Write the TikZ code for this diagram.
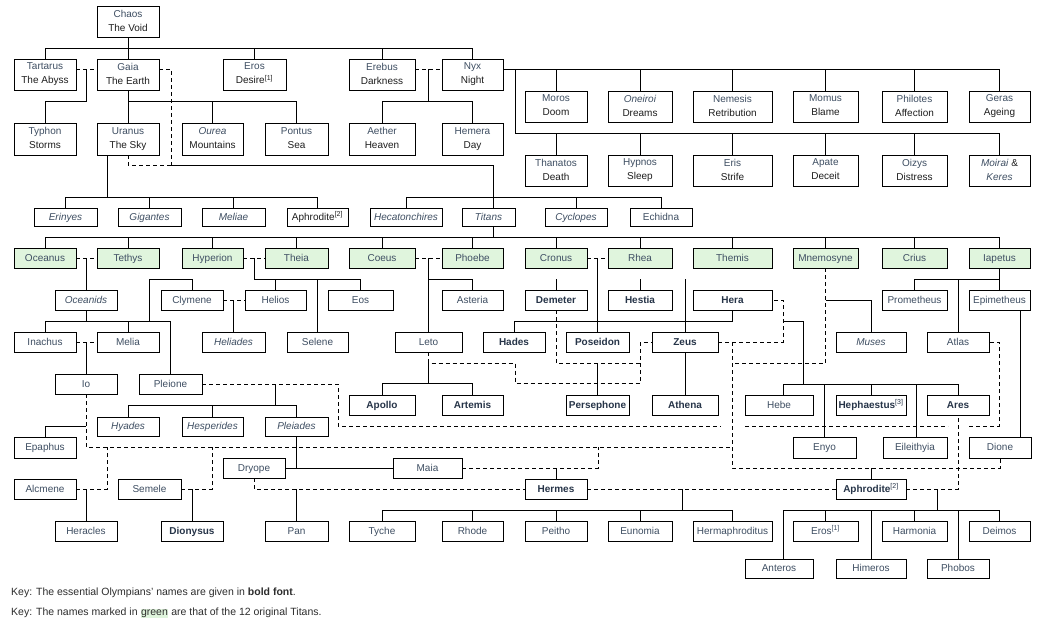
\documentclass[tikz,border=0pt]{standalone}
\usepackage{fontspec}
\setmainfont{Liberation Sans}
\definecolor{namec}{RGB}{62,78,98}
\definecolor{subc}{RGB}{30,30,30}
\definecolor{boldc}{RGB}{38,52,72}
\definecolor{titang}{RGB}{224,245,221}
\definecolor{keyc}{RGB}{45,45,45}
\pgfdeclarelayer{bg}
\pgfsetlayers{bg,main}
\newcommand\subl[1]{\textcolor{subc}{#1}}
\newcommand\mystrut{\vrule height 8.1pt depth 1.9pt width 0pt}
\newcommand\NB[7][]{\node[bx,minimum width={(#5-#3)*1pt},minimum height={(#6-#4)*1pt},#1] (#2) at ({(#3+#5)/2},{(#4+#6)/2}) {#7};}
\tikzset{
 bx/.style={draw=black,line width=0.9pt,fill=white,inner sep=0pt,outer sep=0pt,align=center,font=\fontsize{10}{14}\selectfont,text=namec,execute at begin node=\mystrut,execute at end node=\mystrut},
 tg/.style={fill=titang},
 ob/.style={font=\fontsize{10}{14}\selectfont\bfseries,text=boldc},
 ln/.style={draw=black,line width=0.95pt},
 mar/.style={draw=black,line width=0.95pt,dash pattern=on 4pt off 3pt},
}
\begin{document}
\begin{tikzpicture}[x=1pt,y=-1pt]
\useasboundingbox (0,0) rectangle (1059,629);
% row A-B-C
\NB{chaos}{97}{6}{159}{37}{Chaos\\\subl{The Void}}
\NB{tartarus}{14}{59}{76}{90}{Tartarus\\\subl{The Abyss}}
\NB{gaia}{97}{59}{159}{90}{Gaia\\\subl{The Earth}}
\NB{eros1}{223}{59}{286}{90}{Eros\\\subl{Desire\textsuperscript{[1]}}}
\NB{erebus}{349}{59}{415}{90}{Erebus\\\subl{Darkness}}
\NB{nyx}{442}{59}{503}{90}{Nyx\\\subl{Night}}
\NB{typhon}{14}{123}{76}{155}{Typhon\\\subl{Storms}}
\NB{uranus}{97}{123}{159}{155}{Uranus\\\subl{The Sky}}
\NB{ourea}{182}{123}{243}{155}{\textit{Ourea}\\\subl{Mountains}}
\NB{pontus}{265}{123}{328}{155}{Pontus\\\subl{Sea}}
\NB{aether}{349}{123}{415}{155}{Aether\\\subl{Heaven}}
\NB{hemera}{442}{123}{503}{155}{Hemera\\\subl{Day}}
% Nyx children
\NB{moros}{525}{91}{587}{122}{Moros\\\subl{Doom}}
\NB{oneiroi}{608}{91}{672}{122}{\textit{Oneiroi}\\\subl{Dreams}}
\NB{nemesis}{693}{91}{772}{122}{Nemesis\\\subl{Retribution}}
\NB{momus}{793}{91}{858}{122}{Momus\\\subl{Blame}}
\NB{philotes}{882}{91}{947}{122}{Philotes\\\subl{Affection}}
\NB{geras}{969}{91}{1030}{122}{Geras\\\subl{Ageing}}
\NB{thanatos}{525}{155}{587}{186}{Thanatos\\\subl{Death}}
\NB{hypnos}{608}{155}{672}{186}{Hypnos\\\subl{Sleep}}
\NB{eris}{693}{155}{772}{186}{Eris\\\subl{Strife}}
\NB{apate}{793}{155}{858}{186}{Apate\\\subl{Deceit}}
\NB{oizys}{882}{155}{947}{186}{Oizys\\\subl{Distress}}
\NB{moirai}{969}{155}{1030}{186}{\textit{Moirai} \subl{\&}\\\textit{Keres}}
% row D
\NB{erinyes}{34}{208}{97}{226}{\textit{Erinyes}}
\NB{gigantes}{118}{208}{181}{226}{\textit{Gigantes}}
\NB{meliae}{202}{208}{265}{226}{\textit{Meliae}}
\NB{aphrodite1}{287}{208}{348}{226}{\subl{Aphrodite\textsuperscript{[2]}}}
\NB{hecaton}{370}{208}{442}{226}{\textit{Hecatonchires}}
\NB{titans}{462}{208}{515}{226}{\textit{Titans}}
\NB{cyclopes}{545}{208}{607}{226}{\textit{Cyclopes}}
\NB{echidna}{630}{208}{692}{226}{Echidna}
% Titans
\NB[tg]{oceanus}{14}{248}{76}{268}{Oceanus}
\NB[tg]{tethys}{97}{248}{159}{268}{Tethys}
\NB[tg]{hyperion}{182}{248}{243}{268}{Hyperion}
\NB[tg]{theia}{265}{248}{328}{268}{Theia}
\NB[tg]{coeus}{349}{248}{415}{268}{Coeus}
\NB[tg]{phoebe}{442}{248}{503}{268}{Phoebe}
\NB[tg]{cronus}{525}{248}{587}{268}{Cronus}
\NB[tg]{rhea}{608}{248}{672}{268}{Rhea}
\NB[tg]{themis}{693}{248}{772}{268}{Themis}
\NB[tg]{mnemosyne}{793}{248}{858}{268}{Mnemosyne}
\NB[tg]{crius}{882}{248}{947}{268}{Crius}
\NB[tg]{iapetus}{969}{248}{1030}{268}{Iapetus}
% row F
\NB{oceanids}{55}{290}{117}{310}{\textit{Oceanids}}
\NB{clymene}{161}{290}{223}{310}{Clymene}
\NB{helios}{245}{290}{306}{310}{Helios}
\NB{eos}{328}{290}{393}{310}{Eos}
\NB{asteria}{442}{290}{503}{310}{Asteria}
\NB[ob]{demeter}{525}{290}{587}{310}{Demeter}
\NB[ob]{hestia}{608}{290}{672}{310}{Hestia}
\NB[ob]{hera}{693}{290}{772}{310}{Hera}
\NB{prometheus}{882}{290}{947}{310}{Prometheus}
\NB{epimetheus}{969}{290}{1030}{310}{Epimetheus}
% row G
\NB{inachus}{14}{332}{76}{352}{Inachus}
\NB{melia}{97}{332}{159}{352}{Melia}
\NB{heliades}{202}{332}{265}{352}{\textit{Heliades}}
\NB{selene}{287}{332}{348}{352}{Selene}
\NB{leto}{395}{332}{462}{352}{Leto}
\NB[ob]{hades}{483}{332}{545}{352}{Hades}
\NB[ob]{poseidon}{566}{332}{629}{352}{Poseidon}
\NB[ob]{zeus}{652}{332}{718}{352}{Zeus}
\NB{muses}{836}{332}{906}{352}{\textit{Muses}}
\NB{atlas}{927}{332}{989}{352}{Atlas}
% row H
\NB{io}{55}{374}{117}{394}{Io}
\NB{pleione}{139}{374}{202}{394}{Pleione}
% row I
\NB[ob]{apollo}{349}{395}{415}{415}{Apollo}
\NB[ob]{artemis}{442}{395}{503}{415}{Artemis}
\NB[ob]{persephone}{566}{395}{629}{415}{Persephone}
\NB[ob]{athena}{652}{395}{718}{415}{Athena}
\NB{hebe}{745}{395}{813}{415}{Hebe}
\NB[ob]{hephaestus}{836}{395}{906}{415}{Hephaestus\textsuperscript{\mdseries[3]}}
\NB[ob]{ares}{927}{395}{989}{415}{Ares}
% row J
\NB{hyades}{97}{417}{159}{436}{\textit{Hyades}}
\NB{hesperides}{182}{417}{243}{436}{\textit{Hesperides}}
\NB{pleiades}{265}{417}{328}{436}{\textit{Pleiades}}
% row K
\NB{epaphus}{14}{437}{76}{458}{Epaphus}
\NB{enyo}{793}{437}{856}{458}{Enyo}
\NB{eileithyia}{883}{437}{947}{458}{Eileithyia}
\NB{dione}{969}{437}{1031}{458}{Dione}
% row L
\NB{dryope}{223}{458}{285}{478}{Dryope}
\NB{maia}{393}{458}{462}{478}{Maia}
% row M
\NB{alcmene}{14}{479}{76}{499}{Alcmene}
\NB{semele}{118}{479}{181}{499}{Semele}
\NB[ob]{hermes}{525}{479}{587}{499}{Hermes}
\NB[ob]{aphrodite2}{836}{479}{906}{499}{Aphrodite\textsuperscript{\mdseries[2]}}
% row N
\NB{heracles}{55}{521}{117}{541}{Heracles}
\NB[ob]{dionysus}{161}{521}{223}{541}{Dionysus}
\NB{pan}{265}{521}{328}{541}{Pan}
\NB{tyche}{349}{521}{415}{541}{Tyche}
\NB{rhode}{442}{521}{503}{541}{Rhode}
\NB{peitho}{525}{521}{587}{541}{Peitho}
\NB{eunomia}{608}{521}{672}{541}{Eunomia}
\NB{hermaphroditus}{693}{521}{772}{541}{Hermaphroditus}
\NB{eros2}{793}{521}{858}{541}{Eros\textsuperscript{[1]}}
\NB{harmonia}{882}{521}{947}{541}{Harmonia}
\NB{deimos}{969}{521}{1030}{541}{Deimos}
% row O
\NB{anteros}{745}{559}{813}{578}{Anteros}
\NB{himeros}{836}{559}{906}{578}{Himeros}
\NB{phobos}{927}{559}{989}{578}{Phobos}
% key
\node[anchor=west,inner sep=0pt,text=keyc,font=\fontsize{10.5}{12}\selectfont] (key1) at (11,593) {Key: The essential Olympians' names are given in \textbf{bold font}.};
\node[anchor=west,inner sep=0pt,text=keyc,font=\fontsize{10.5}{12}\selectfont] (key2) at (11,613) {Key: The names marked in {\fboxsep=0.5pt\colorbox{titang}{green}} are that of the 12 original Titans.};

\begin{pgfonlayer}{bg}
\fill[white] (0,0) rectangle (1059,629);
% Chaos
\draw[ln] (chaos.south) -- (gaia.north);
\draw[ln] (tartarus.north) -- ++(0,-11) -| (nyx.north);
\draw[ln] (eros1.north) -- ++(0,-11);
\draw[ln] (erebus.north) -- ++(0,-11);
% Tartarus + Gaia
\draw[mar] ([yshift=5.5pt]tartarus.east) -- ([yshift=5.5pt]gaia.west);
\draw[ln] (86.5,69) -- (86.5,101) -| (typhon.north);
% Gaia
\draw[ln] (gaia.south) -- (uranus.north);
\draw[ln] (128,101) -| (pontus.north);
\draw[ln] (ourea.north) -- ++(0,-22);
% Gaia + Uranus
\draw[mar] ([yshift=5.5pt]gaia.east) -| (171,165);
\draw[mar] (uranus.south) |- (171,165);
\draw[ln] (171,165) -| (493,237);
\draw[ln] (hecaton.north) -- ++(0,-11) -| (echidna.north);
\draw[ln] (cyclopes.north) -- ++(0,-11);
% Uranus
\draw[ln] (107,155) -- (107,197);
\draw[ln] (erinyes.north) -- ++(0,-11) -| (aphrodite1.north);
\draw[ln] (gigantes.north) -- ++(0,-11);
\draw[ln] (meliae.north) -- ++(0,-11);
% Titans bus
\draw[ln] (oceanus.north) -- ++(0,-11) -| (iapetus.north);
\foreach \n in {tethys,hyperion,theia,coeus,phoebe,cronus,rhea,themis,mnemosyne,crius}
  \draw[ln] (\n.north) -- ++(0,-11);
% Oceanus + Tethys
\draw[mar] (oceanus.east) -- (tethys.west);
\draw[ln] (oceanids.north) -- ++(0,-32);
\draw[ln] (oceanids.south) -- ++(0,11);
\draw[ln] (inachus.north) -- ++(0,-11) -| (pleione.north);
\draw[ln] (melia.north) -- ++(0,-11);
\draw[ln] (149,321) -- (149,279) -- (192,279) -- (clymene.north);
% Inachus + Melia
\draw[mar] (inachus.east) -- (melia.west);
\draw[ln] (io.north) -- ++(0,-32);
% Hyperion + Theia
\draw[mar] (hyperion.east) -- (theia.west);
\draw[ln] (254,258) -- (254,279) -| (eos.north);
\draw[ln] (helios.north) -- ++(0,-11);
\draw[ln] (selene.north) -- ++(0,-53);
% Clymene + Helios
\draw[mar] (clymene.east) -- (helios.west);
\draw[ln] (heliades.north) -- ++(0,-32);
% Coeus + Phoebe
\draw[mar] (coeus.east) -- (phoebe.west);
\draw[ln] (leto.north) -- ++(0,-74);
\draw[ln] (428.5,279) -| (asteria.north);
% Cronus + Rhea
\draw[mar] (cronus.east) -- (rhea.west);
\draw[ln] (poseidon.north) -- ++(0,-74);
\draw[ln] (hades.north) -- ++(0,-11) -| (hera.north);
\draw[ln] (demeter.north) -- ++(0,-11);
\draw[ln] (hestia.north) -- ++(0,-11);
\draw[ln] (zeus.north) -- ++(0,-53);
% Leto + Zeus
\draw[mar] (leto.south) -- (428.5,363) -- (515,363) -- (515,383) -- (640,383) -- (640,342) -- (zeus.west);
\draw[ln] (428.5,363) -- (428.5,383);
\draw[ln] (apollo.north) -- ++(0,-12) -| (artemis.north);
% Demeter + Zeus
\draw[mar] (demeter.south) -- ++(0,53) -- (640,363);
\draw[ln] (persephone.north) -- ++(0,-32);
\draw[ln] (zeus.south) -- (athena.north);
% Zeus + Hera
\draw[mar] (zeus.east) -- (783,342) -- (783,300) -- (hera.east);
\draw[ln] (783,321) -- (803,321) -- (803,384);
\draw[ln] (783,395) -- (783,384) -| (ares.north);
\draw[ln] (enyo.north) -- ++(0,-53);
\draw[ln] (hephaestus.north) -- ++(0,-11);
\draw[ln] (916,437) -- (916,384);
% Mnemosyne + Zeus
\draw[mar] (mnemosyne.south) -- ++(0,95) -- (732,363);
\draw[ln] (825.5,300) -| (muses.north);
% Zeus + Dione
\draw[mar] (732,342) -- (732,468) -| (dione.south);
\draw[ln] (aphrodite2.north) -- ++(0,-11);
% Io, Alcmene, Semele + Zeus
\draw[mar] (io.south) -- ++(0,53) -- (732,447);
\draw[ln] (86,426) -| (epaphus.north);
\draw[mar] (alcmene.east) -| (107,447);
\draw[ln] (heracles.north) -- ++(0,-32);
\draw[mar] (semele.east) -| (212,447);
\draw[ln] (dionysus.north) -- ++(0,-32);
% Maia + Zeus
\draw[mar] (maia.east) -| (598,447);
\draw[ln] (hermes.north) -- ++(0,-11);
% Pleione + Atlas
\draw[mar] (pleione.east) -| (338,426) -- (721,426);
\draw[mar] (745,426) -- (948,426);
\draw[mar] (969,426) -- (999,426) -- (999,342) -- (atlas.east);
\draw[ln] (275,384) -- (275,405);
\draw[ln] (hyades.north) -- ++(0,-12) -| (pleiades.north);
\draw[ln] (hesperides.north) -- ++(0,-12);
\draw[ln] (pleiades.south) -- ++(0,32);
\draw[ln] (dryope.east) -- (maia.west);
% Dryope + Hermes
\draw[mar] (dryope.south) |- (hermes.west);
\draw[ln] (pan.north) -- ++(0,-32);
% Hermes + Aphrodite
\draw[mar] (hermes.east) -- (aphrodite2.west);
\draw[ln] (682,489) -- (682,510);
\draw[ln] (tyche.north) -- ++(0,-11) -| (hermaphroditus.north);
\draw[ln] (rhode.north) -- ++(0,-11);
\draw[ln] (peitho.north) -- ++(0,-11);
\draw[ln] (eunomia.north) -- ++(0,-11);
% Ares + Aphrodite
\draw[mar] (aphrodite2.east) -| (ares.south);
\draw[ln] (937,489) -- (937,510);
\draw[ln] (783,559) -- (783,510) -| (deimos.north);
\draw[ln] (eros2.north) -- ++(0,-11);
\draw[ln] (harmonia.north) -- ++(0,-11);
\draw[ln] (himeros.north) -- ++(0,-49);
\draw[ln] (phobos.north) -- ++(0,-49);
% Erebus + Nyx
\draw[mar] ([yshift=5.5pt]erebus.east) -- ([yshift=5.5pt]nyx.west);
\draw[ln] (428.5,69) -- (428.5,101);
\draw[ln] (aether.north) -- ++(0,-22) -| (hemera.north);
% Nyx
\draw[ln] ([yshift=5.5pt]nyx.east) -| (geras.north);
\foreach \n in {moros,oneiroi,nemesis,momus,philotes}
  \draw[ln] (\n.north) -- ++(0,-22);
\draw[ln] (515,69) -- (515,133) -| (moirai.north);
\foreach \n in {thanatos,hypnos,eris,apate,oizys}
  \draw[ln] (\n.north) -- ++(0,-22);
% Iapetus
\draw[ln] (iapetus.south) -- (epimetheus.north);
\draw[ln] (prometheus.north) -- ++(0,-11) -- (999.5,279);
\draw[ln] (atlas.north) -- ++(0,-53);
\draw[ln] (1020,310) -- (1020,437);
\end{pgfonlayer}
\end{tikzpicture}
\end{document}
